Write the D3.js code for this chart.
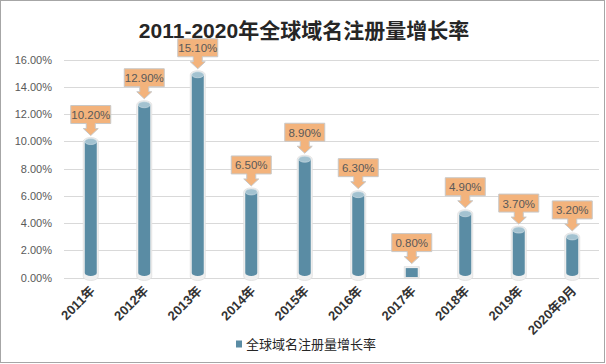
<!DOCTYPE html>
<html><head><meta charset="utf-8">
<script src="https://cdn.jsdelivr.net/npm/d3@7/dist/d3.min.js"></script>
<style>
html,body{margin:0;padding:0;background:#fff;}
svg{display:block;}
</style></head>
<body>
<svg id="chart" width="606" height="364"></svg>
<script>
const title = "2011-2020年全球域名注册量增长率";
const seriesName = "全球域名注册量增长率";
const categories = ["2011年","2012年","2013年","2014年","2015年","2016年","2017年","2018年","2019年","2020年9月"];
const values = [10.2, 12.9, 15.1, 6.5, 8.9, 6.3, 0.8, 4.9, 3.7, 3.2];
const yTicks = [0, 2, 4, 6, 8, 10, 12, 14, 16];

const svg = d3.select("#chart");
const W = 606, H = 364;
const m = {left: 64, right: 7, top: 59.5, bottom: 86.5};

svg.append("rect").attr("x",0.5).attr("y",0.5).attr("width",W-2).attr("height",H-2)
  .attr("fill","#fff").attr("stroke","#a6a6a6").attr("stroke-width",1);

svg.append("text").attr("x",304).attr("y",38).attr("text-anchor","middle")
  .attr("font-family","'Liberation Sans','Noto Sans CJK SC',sans-serif")
  .attr("font-weight","bold").attr("font-size",21).attr("fill","#262626")
  .text(title);

const x = d3.scaleBand().domain(categories).range([m.left, W - m.right]).padding(0);
const y = d3.scaleLinear().domain([0, 16]).range([H - m.bottom, m.top]);

// gridlines
svg.append("g").selectAll("line").data(yTicks).join("line")
  .attr("x1", m.left).attr("x2", W - m.right)
  .attr("y1", d => Math.round(y(d)) + 0.5).attr("y2", d => Math.round(y(d)) + 0.5)
  .attr("stroke", "#d9d9d9").attr("stroke-width", 1);

// y axis labels
const yAxis = d3.axisLeft(y).tickValues(yTicks).tickSize(0).tickPadding(0)
  .tickFormat(d => d3.format(".2f")(d) + "%");
const ya = svg.append("g").attr("transform", `translate(52,0)`).call(yAxis);
ya.select(".domain").remove();
ya.selectAll("text").attr("font-family","'Liberation Sans',sans-serif").attr("font-size",11)
  .attr("fill","#595959");

// x axis labels
const xAxis = d3.axisBottom(x).tickSize(0).tickPadding(0);
const xa = svg.append("g").attr("transform", `translate(0,${H - m.bottom})`).call(xAxis);
xa.select(".domain").remove();
xa.selectAll("text")
  .attr("font-family","'Liberation Sans','Noto Sans CJK SC',sans-serif")
  .attr("font-weight","bold").attr("font-size",13).attr("fill","#333")
  .attr("text-anchor","end").attr("dy",null).attr("y",0)
  .attr("transform","translate(5,14) rotate(-45)");

// cylinders
const bw = 12, ry = 3;
const bars = svg.append("g").selectAll("g").data(values).join("g")
  .attr("transform", (d,i) => `translate(${x(categories[i]) + x.bandwidth()/2},0)`);
const isTall = d => (y(0) - y(d)) > 16;
const topY = d => isTall(d) ? y(d) + ry : y(d) + 1.5;
// soft outline
bars.append("path")
  .attr("d", d => {
    const t = topY(d), b = y(0) - 1, r = bw/2 + 1.5;
    if (!isTall(d)) return `M${-r},${t-1.5} L${r},${t-1.5} L${r},${b+1} L${-r},${b+1} Z`;
    const rr = ry + 1;
    return `M${-r},${t} A${r},${rr} 0 0 1 ${r},${t} L${r},${b} A${r},${rr} 0 0 1 ${-r},${b} Z`;
  })
  .attr("fill","#f0f0f0").attr("stroke","#e0e0e0").attr("stroke-width",0.8);
bars.append("path")
  .attr("d", d => {
    const t = topY(d), b = y(0) - 1.5, r = bw/2;
    if (!isTall(d)) return `M${-r},${t} L${r},${t} L${r},${b+1} L${-r},${b+1} Z`;
    return `M${-r},${t} L${r},${t} L${r},${b - ry} A${r},${ry} 0 0 1 ${-r},${b - ry} Z`;
  })
  .attr("fill","#5a8ca4");
bars.filter(isTall).append("ellipse")
  .attr("cx",0).attr("cy", d => topY(d)).attr("rx", bw/2).attr("ry", ry)
  .attr("fill","#a3c2d0").attr("stroke","#d3e1e8").attr("stroke-width",0.6);

// callout labels
const bxW = 40;
const lab = bars.append("g").attr("transform", d => `translate(0,${y(d) - 3})`);
lab.append("path")
  .attr("d", () => {
    const h = bxW/2;
    return `M${-h},${-30} L${h},${-30} L${h},${-12} L4.5,-12 L4.5,-7 L7.5,-7 L0,0 L-7.5,-7 L-4.5,-7 L-4.5,-12 L${-h},-12 Z`;
  })
  .attr("fill","#f3b37c").attr("stroke","#c8c8c8").attr("stroke-width",1);
lab.append("text").attr("x",0).attr("y",-16.5).attr("text-anchor","middle")
  .attr("font-family","'Liberation Sans',sans-serif").attr("font-size",11.5)
  .attr("fill","#595959").text(d => d3.format(".2f")(d) + "%");

// legend
const lg = svg.append("g").attr("transform","translate(236,344)");
lg.append("rect").attr("x",0).attr("y",-3.5).attr("width",6).attr("height",7).attr("fill","#5a8ca4");
lg.append("text").attr("x",10).attr("y",0).attr("dy","0.35em")
  .attr("font-family","'Noto Sans CJK SC',sans-serif").attr("font-size",13)
  .attr("fill","#262626").text(seriesName);
</script>
</body></html>
